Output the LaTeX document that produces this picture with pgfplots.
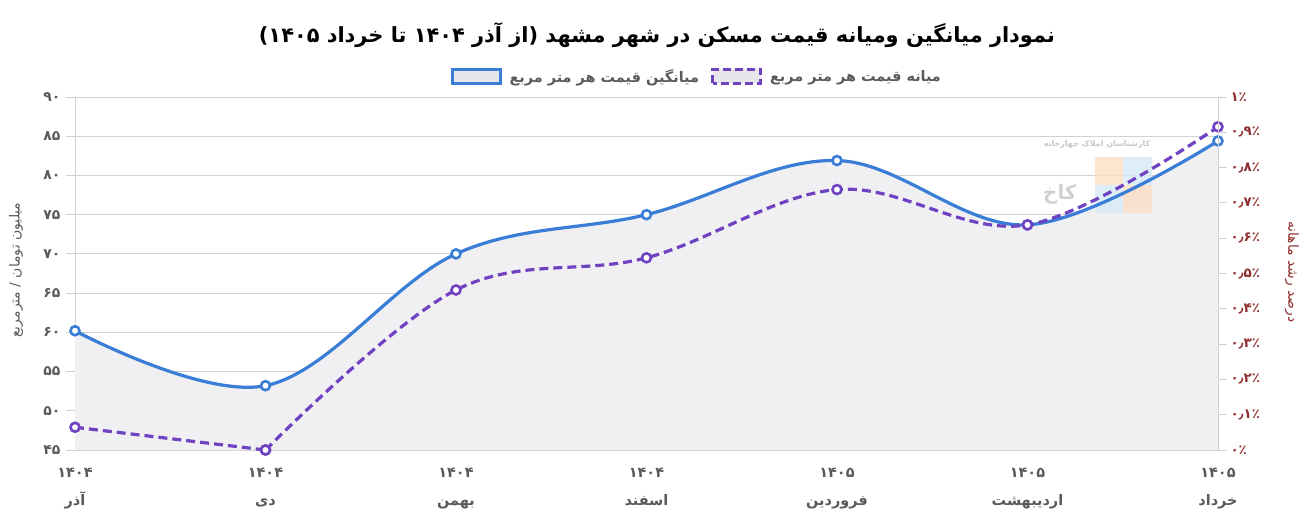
\documentclass[border=0pt]{standalone}
\usepackage{pgfplots}
\usepackage{pgfplotstable}
\pgfplotsset{compat=1.18}
\usepackage{fontspec}
\setmainfont{DejaVu Sans}
\TeXXeTstate=1
\newfontfamily\fa[Script=Arabic]{DejaVu Sans}
\definecolor{avgblue}{RGB}{58,125,214}
\definecolor{medpurple}{RGB}{111,66,193}
\definecolor{areafill}{RGB}{240,240,243}
\definecolor{legfill}{RGB}{230,230,235}
\definecolor{gridgray}{RGB}{210,210,210}
\definecolor{ticklab}{RGB}{90,90,90}
\definecolor{rightlab}{RGB}{145,48,48}
\definecolor{wmorange}{RGB}{252,222,196}
\definecolor{wmblue}{RGB}{214,234,248}

\pgfplotstableread{
x avg med
0 60.2 47.9
1 53.2 45.0
2 70.0 65.4
3 75.0 69.5
4 81.9 78.2
5 73.7 73.7
6 84.4 86.2
}\datatable

\begin{document}
\begin{tikzpicture}
\useasboundingbox (0,0) rectangle (1310bp,524bp);
% title
\node[font=\fa\bfseries\fontsize{21}{26}\selectfont, text=black] at (657bp,489bp)
  {\beginR نمودار میانگین ومیانه قیمت مسکن در شهر مشهد (از آذر \beginL۱۴۰۴\endL{} تا خرداد \beginL۱۴۰۵\endL)\endR};
% axis titles
\node[rotate=90, font=\fa\fontsize{14}{16}\selectfont, text=ticklab] at (16bp,254bp)
  {\beginR میلیون تومان / مترمربع\endR};
\node[rotate=-90, font=\fa\fontsize{14}{16}\selectfont, text=rightlab] at (1292bp,252bp)
  {\beginR درصد رشد ماهانه\endR};

\begin{axis}[
  at={(75bp,74bp)}, anchor=south west,
  width=1143bp, height=353bp, scale only axis,
  xmin=0, xmax=6, ymin=45, ymax=90,
  xtick={0,...,6},
  xticklabels={{۱۴۰۴\\آذر},{۱۴۰۴\\دی},{۱۴۰۴\\بهمن},{۱۴۰۴\\اسفند},{۱۴۰۵\\فروردین},{۱۴۰۵\\اردیبهشت},{۱۴۰۵\\خرداد}},
  xticklabel style={align=center, font=\fa\bfseries\fontsize{14.5}{28}\selectfont, text=ticklab, yshift=-6bp},
  xtick style={draw=none},
  ytick={45,50,...,90},
  yticklabels={۴۵,۵۰,۵۵,۶۰,۶۵,۷۰,۷۵,۸۰,۸۵,۹۰},
  yticklabel style={font=\fa\bfseries\fontsize{14}{16}\selectfont, text=ticklab, xshift=-2bp},
  ytick style={gridgray, line width=0.8bp},
  tick align=outside, major tick length=9bp,
  ymajorgrids, grid style={gridgray, line width=0.8bp},
  axis line style={gridgray, line width=0.8bp},
  axis y line*=left, axis x line*=bottom,
  legend style={at={(0.544,1)}, anchor=south, yshift=9bp, draw=none, fill=none,
    font=\fa\bfseries\fontsize{14.5}{16}\selectfont, text=ticklab,
    legend columns=2,
    /tikz/every odd column/.append style={column sep=6bp},
    /tikz/every even column/.append style={column sep=10bp}},
  legend cell align=left,
]
\addplot[draw=none, fill=areafill, smooth, tension=0.6, forget plot] table[x=x,y=avg] {\datatable} \closedcycle;
% watermark
\fill[wmorange, opacity=0.8] (5.354,78.78) rectangle (5.501,82.35);
\fill[wmblue, opacity=0.8] (5.501,78.78) rectangle (5.654,82.35);
\fill[wmblue, opacity=0.8] (5.354,75.21) rectangle (5.501,78.78);
\fill[wmorange, opacity=0.8] (5.501,75.21) rectangle (5.654,78.78);
\node[font=\fa\bfseries\fontsize{8}{9}\selectfont, text=black!22] at (5.365,84.0) {\beginR کارشناسان املاک چهارخانه\endR};
\node[font=\fa\bfseries\fontsize{20}{22}\selectfont, text=black!18] at (5.17,77.6) {کاخ};
\addplot[avgblue, line width=3.2bp, smooth, tension=0.6,
  mark=*, mark size=4.5bp, mark options={fill=white, line width=2.6bp},
  legend image code/.code={\draw[avgblue, line width=3bp, fill=legfill] (0bp,-7bp) rectangle (48bp,7bp);}]
  table[x=x,y=avg] {\datatable};
\addlegendentry{\beginR میانگین قیمت هر متر مربع\endR}
\addplot[medpurple, line width=3.2bp, smooth, tension=0.6, dash pattern=on 9bp off 5bp,
  mark=*, mark size=4.5bp, mark options={solid, fill=white, line width=2.6bp},
  skip coords between index={0}{1},
  legend image code/.code={\draw[medpurple, line width=3bp, dash pattern=on 8bp off 4bp, fill=legfill] (0bp,-7bp) rectangle (48bp,7bp);}]
  table[x=x,y=med] {\datatable};
\addlegendentry{\beginR میانه قیمت هر متر مربع\endR}
\addplot[medpurple, line width=3.2bp, dash pattern=on 9bp off 5bp,
  mark=*, mark size=4.5bp, mark options={solid, fill=white, line width=2.6bp},
  skip coords between index={2}{7}, forget plot]
  table[x=x,y=med] {\datatable};
\end{axis}

\begin{axis}[
  at={(75bp,74bp)}, anchor=south west,
  width=1143bp, height=353bp, scale only axis,
  xmin=0, xmax=6, ymin=0, ymax=1,
  axis x line=none, axis y line*=right,
  ytick={0,0.1,...,1.01},
  yticklabels={۰٪,۰٫۱٪,۰٫۲٪,۰٫۳٪,۰٫۴٪,۰٫۵٪,۰٫۶٪,۰٫۷٪,۰٫۸٪,۰٫۹٪,۱٪},
  yticklabel style={font=\fa\bfseries\fontsize{13.5}{16}\selectfont, text=rightlab},
  ytick style={gridgray, line width=0.8bp},
  tick align=outside, major tick length=9bp,
  axis line style={gridgray, line width=0.8bp},
]
\end{axis}
\end{tikzpicture}
\end{document}
